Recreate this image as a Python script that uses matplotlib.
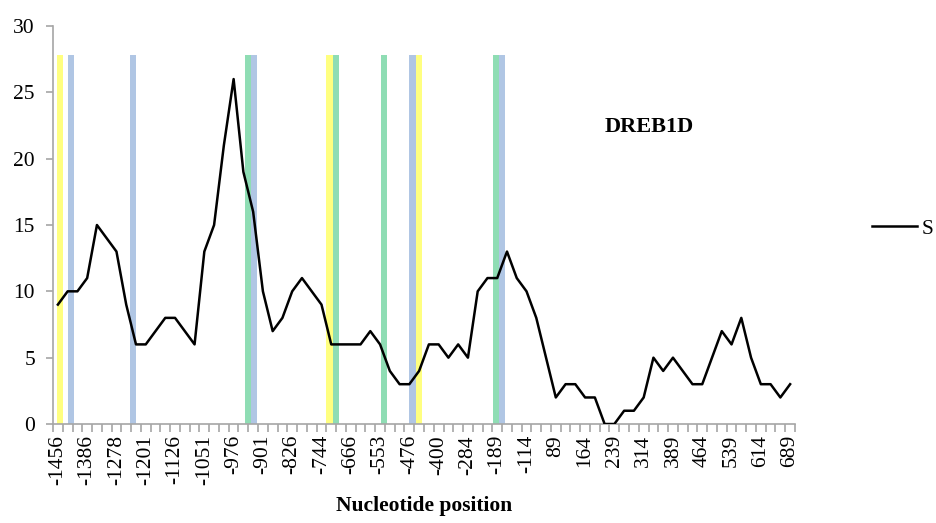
import numpy as np
import matplotlib
matplotlib.use('Agg')
import matplotlib.pyplot as plt

plt.rcParams['font.family'] = ['Liberation Serif', 'DejaVu Serif']

# score per position window (76 windows, every 3rd one labelled)
scores = [9, 10, 10, 11, 15, 14, 13, 9, 6, 6,
          7, 8, 8, 7, 6, 13, 15, 21, 26, 19,
          16, 10, 7, 8, 10, 11, 10, 9, 6, 6,
          6, 6, 7, 6, 4, 3, 3, 4, 6, 6,
          5, 6, 5, 10, 11, 11, 13, 11, 10, 8,
          5, 2, 3, 3, 2, 2, 0, 0, 1, 1,
          2, 5, 4, 5, 4, 3, 3, 5, 7, 6,
          8, 5, 3, 3, 2, 3]
tick_labels = ['-1456', '-1386', '-1278', '-1201', '-1126', '-1051', '-976',
               '-901', '-826', '-744', '-666', '-553', '-476', '-400', '-284',
               '-189', '-114', '89', '164', '239', '314', '389', '464', '539',
               '614', '689']

# motif bands: position in window units and motif type
band_pos = [0.2, 1.35, 7.7, 19.5, 20.1, 27.8, 28.5, 33.4, 36.35, 37.0, 44.9, 45.5]
band_type = ['y', 'b', 'b', 'g', 'b', 'y', 'g', 'g', 'b', 'y', 'g', 'b']
band_colors = {'y': '#FFFF80', 'b': '#B0C6E4', 'g': '#8FDDB4'}

fig = plt.figure(figsize=(9.36, 5.23), dpi=100)
ax = fig.add_axes([53/936, 1 - 424/523, (795-53)/936, (424-26)/523])

x = np.arange(len(scores))
half = 0.34
for p, t in zip(band_pos, band_type):
    ax.fill_between([p - half, p + half], 0, 27.8, color=band_colors[t], lw=0, zorder=1)

ax.plot(x, scores, color='black', lw=1.8, zorder=3, label='S')

ax.set_xlim(-0.5, len(scores) - 0.5)
ax.set_ylim(0, 30)
ax.set_yticks(range(0, 31, 5))
ax.set_xticks(x[::3])
ax.set_xticklabels(tick_labels, rotation=90)
ax.set_xticks(np.arange(-0.5, len(scores), 1), minor=True)

for s in ['top', 'right']:
    ax.spines[s].set_visible(False)
for s in ['left', 'bottom']:
    ax.spines[s].set_color('#A6A6A6')
    ax.spines[s].set_linewidth(1.2)

ax.tick_params(axis='y', colors='#A6A6A6', labelcolor='black', labelsize=15.5,
               length=5, width=1.2, direction='out', pad=8)
ax.tick_params(axis='x', which='major', length=0, labelsize=15.5, pad=8)
ax.tick_params(axis='x', which='minor', colors='#A6A6A6', length=6, width=1.2,
               direction='out')

ax.set_xlabel('Nucleotide position', fontsize=15.5, fontweight='bold', labelpad=8)
ax.text(0.803, 0.746, 'DREB1D', transform=ax.transAxes, fontsize=16,
        fontweight='bold', ha='center', va='center')

leg = ax.legend(loc='center left', bbox_to_anchor=(1.104, 0.49), frameon=False,
                fontsize=15.5, handlelength=2.1, handletextpad=0.2,
                borderaxespad=0, borderpad=0)

fig.savefig('out.png', dpi=100)
